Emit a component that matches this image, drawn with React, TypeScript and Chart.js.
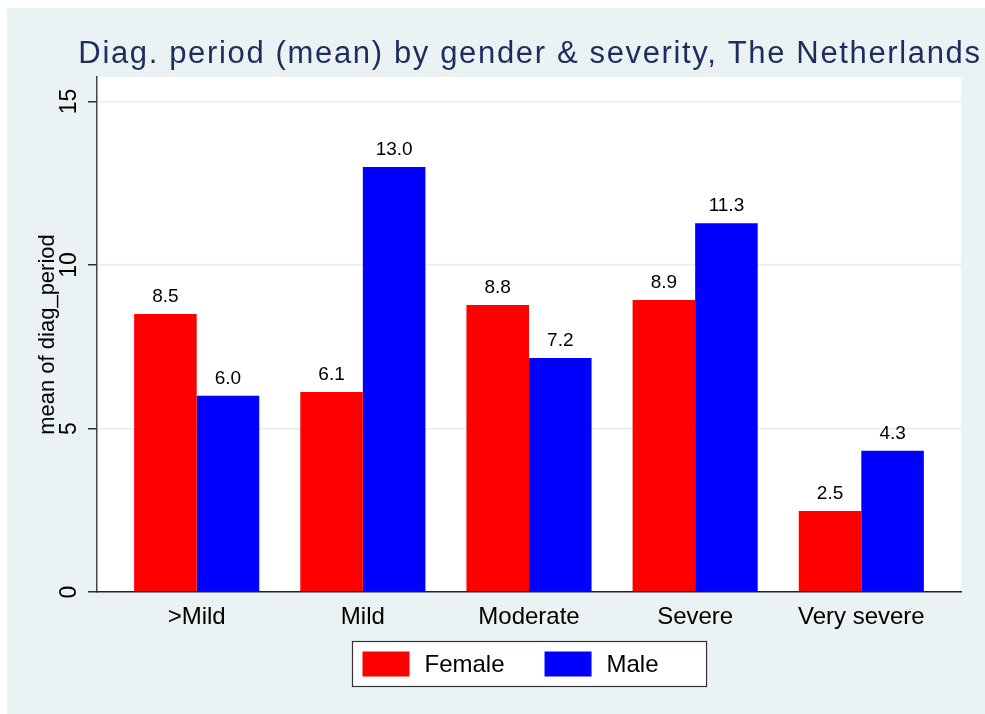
import { useEffect, useRef } from "react";
import { Chart, registerables } from "chart.js";

Chart.register(...registerables);

// ---- data ----
const categories = [">Mild", "Mild", "Moderate", "Severe", "Very severe"];
const femaleValues = [8.5, 6.12, 8.78, 8.93, 2.48];
const maleValues = [6.0, 13.0, 7.16, 11.28, 4.32];
const seriesLabels = ["Female", "Male"];
const yTickValues = [0, 5, 10, 15];
const titleText = "Diag. period (mean) by gender & severity, The Netherlands";
const yAxisTitle = "mean of diag_period";

// ---- style ----
const FONT = '"Liberation Sans", Arial, Helvetica, sans-serif';
const OUTER_BG = "#EAF2F3";
const TITLE_COLOR = "#1D2D5C";
const RED = "#FF0000";
const BLUE = "#0000FF";

const backgroundPlugin = {
  id: "stataBackground",
  beforeDraw(chart: any) {
    const { ctx, chartArea: a, width, height } = chart;
    ctx.save();
    ctx.fillStyle = "#FFFFFF";
    ctx.fillRect(0, 0, width, height);
    ctx.fillStyle = OUTER_BG;
    ctx.fillRect(7, 8, width - 7, height - 8);
    ctx.fillStyle = "#FFFFFF";
    ctx.fillRect(a.left, a.top, a.right - a.left, a.bottom - a.top);
    // title
    ctx.font = `31px ${FONT}`;
    ctx.fillStyle = TITLE_COLOR;
    ctx.textAlign = "center";
    ctx.textBaseline = "alphabetic";
    (ctx as any).letterSpacing = "1.65px";
    ctx.fillText(titleText, (a.left + a.right) / 2 + 1, a.top - 14);
    (ctx as any).letterSpacing = "0px";
    ctx.restore();
  },
};

const valueLabelPlugin = {
  id: "valueLabels",
  afterDatasetsDraw(chart: any) {
    const { ctx } = chart;
    ctx.save();
    ctx.font = `19px ${FONT}`;
    ctx.fillStyle = "#000000";
    ctx.textAlign = "center";
    ctx.textBaseline = "alphabetic";
    chart.data.datasets.forEach((ds: any, di: number) => {
      const meta = chart.getDatasetMeta(di);
      meta.data.forEach((el: any, i: number) => {
        const v = ds.data[i].y as number;
        ctx.fillText(v.toFixed(1), el.x, el.y - 12);
      });
    });
    ctx.restore();
  },
};

const legendPlugin = {
  id: "stataLegend",
  afterDraw(chart: any) {
    const { ctx, chartArea: a } = chart;
    ctx.save();
    ctx.font = `24px ${FONT}`;
    const items = chart.data.datasets.map((ds: any) => ({
      label: ds.label as string,
      color: ds.backgroundColor as string,
      w: ctx.measureText(ds.label).width,
    }));
    const PAD_L = 10, BOX_W = 47, BOX_H = 25, GAP = 15, COL_GAP = 40, PAD_R = 48, PAD_V = 10;
    const W =
      PAD_L +
      items.reduce((s: number, it: any) => s + BOX_W + GAP + it.w, 0) +
      COL_GAP * (items.length - 1) +
      PAD_R;
    const H = BOX_H + 2 * PAD_V;
    const cx = (a.left + a.right) / 2;
    const left = Math.round(cx - W / 2) + 0.5;
    const top = Math.round(a.bottom + 49) + 0.5;
    ctx.fillStyle = "#FFFFFF";
    ctx.fillRect(left, top, W, H);
    ctx.strokeStyle = "#333333";
    ctx.lineWidth = 1.2;
    ctx.strokeRect(left, top, W, H);
    let x = left + PAD_L;
    items.forEach((it: any) => {
      ctx.fillStyle = it.color;
      ctx.fillRect(x, top + PAD_V, BOX_W, BOX_H);
      ctx.fillStyle = "#000000";
      ctx.textAlign = "left";
      ctx.textBaseline = "middle";
      ctx.fillText(it.label, x + BOX_W + GAP, top + H / 2 + 1);
      x += BOX_W + GAP + it.w + COL_GAP;
    });
    ctx.restore();
  },
};

export default function App() {
  const canvasRef = useRef<HTMLCanvasElement | null>(null);

  useEffect(() => {
    const canvas = canvasRef.current;
    if (!canvas) return;
    const chart = new Chart(canvas, {
      type: "bar",
      data: {
        datasets: [
          {
            label: seriesLabels[0],
            data: categories.map((_, i) => ({ x: i, y: femaleValues[i] })),
            backgroundColor: RED,
            borderWidth: 0,
            categoryPercentage: 0.753,
            barPercentage: 1,
          },
          {
            label: seriesLabels[1],
            data: categories.map((_, i) => ({ x: i, y: maleValues[i] })),
            backgroundColor: BLUE,
            borderWidth: 0,
            categoryPercentage: 0.753,
            barPercentage: 1,
          },
        ] as any,
      },
      options: {
        animation: false,
        responsive: false,
        devicePixelRatio: 1,
        layout: { padding: { top: 77, right: 24, bottom: 82, left: 0 } },
        plugins: {
          legend: { display: false },
          title: { display: false },
          tooltip: { enabled: false },
        },
        scales: {
          x: {
            type: "linear",
            offset: false,
            min: -0.6,
            max: 4.6,
            afterBuildTicks: (scale: any) => {
              scale.ticks = categories.map((_, i) => ({ value: i }));
            },
            afterFit: (scale: any) => {
              scale.height = 40;
            },
            grid: { display: false, drawTicks: false },
            border: { display: true, color: "#222222", width: 1.5, z: 1 },
            ticks: {
              autoSkip: false,
              maxRotation: 0,
              minRotation: 0,
              padding: 11,
              color: "#000000",
              font: { family: FONT, size: 24, lineHeight: 1.2 },
              callback: (v: any) => categories[Math.round(Number(v))] ?? "",
            },
          },
          y: {
            type: "linear",
            min: 0,
            max: 15.75,
            afterBuildTicks: (scale: any) => {
              scale.ticks = yTickValues.map((v) => ({ value: v }));
            },
            afterFit: (scale: any) => {
              scale.width = 97;
            },
            grid: {
              color: (c: any) => (c.tick && c.tick.value === 0 ? "rgba(0,0,0,0)" : "#E6EEF0"),
              lineWidth: 1.5,
              tickColor: "#333333",
              tickLength: 9,
              tickWidth: 1.5,
              drawTicks: true,
            },
            border: { display: true, color: "#444444", width: 1.5 },
            ticks: {
              autoSkip: false,
              minRotation: 90,
              maxRotation: 90,
              crossAlign: "center",
              padding: 6,
              color: "#000000",
              font: { family: FONT, size: 23, lineHeight: 1.2 },
            },
            title: {
              display: true,
              text: yAxisTitle,
              color: "#000000",
              font: { family: FONT, size: 22, lineHeight: 1.2 },
              padding: { top: 34.8, bottom: 0 },
            },
          },
        },
      } as any,
      plugins: [backgroundPlugin, valueLabelPlugin, legendPlugin],
    });
    return () => chart.destroy();
  }, []);

  return (
    <div style={{ position: "fixed", left: 0, top: 0, width: 985, height: 714 }}>
      <canvas ref={canvasRef} width={985} height={714} style={{ display: "block" }} />
    </div>
  );
}
